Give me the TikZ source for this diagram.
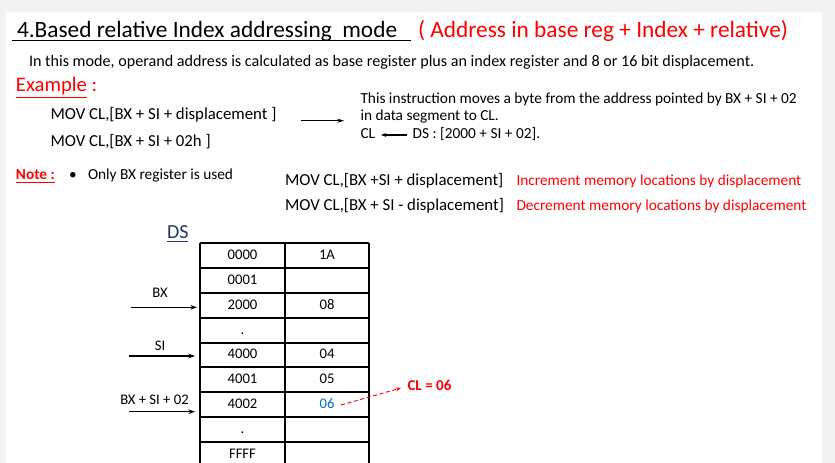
\documentclass[tikz,border=0pt]{standalone}
\usepackage{fontspec}
\setmainfont{Carlito}
\usetikzlibrary{arrows.meta}
\definecolor{pagegrey}{HTML}{F2F2F2}
\definecolor{hired}{HTML}{FF0000}
\definecolor{dsblue}{HTML}{1F3864}
\definecolor{valblue}{HTML}{0070C0}
\tikzset{
  txt/.style={anchor=base west, inner sep=0pt, outer sep=0pt},
  ctxt/.style={anchor=base, inner sep=0pt, outer sep=0pt},
  ptr/.style={-{Stealth[length=5pt,width=3.5pt]}, line width=1pt},
  body/.style={font=\fontsize{12.1}{14}\selectfont},
  code/.style={font=\fontsize{12.6}{15}\selectfont},
  small/.style={font=\fontsize{11.5}{13}\selectfont},
  tab/.style={font=\fontsize{11}{13}\selectfont}
}
\begin{document}
\begin{tikzpicture}[x=0.75pt,y=-0.75pt]
% page
\fill[pagegrey] (0,0) rectangle (835,463);
\fill[white] (6,12) rectangle (822,463);
\useasboundingbox (0,0) rectangle (835,463);

% heading
\node[txt, font=\fontsize{17.5}{20}\selectfont] (title) at (17,37.3) {4.Based relative Index addressing\ \ mode};
\draw[line width=0.8pt] (12,40.7) coordinate (ulA) -- (411,40.7) coordinate (ulB);
\node[txt, text=hired, font=\fontsize{17.5}{20}\selectfont] (sub) at (418,37.3) {( Address in base reg + Index + relative)};

\node[txt, body] (intro) at (29,66.7) {In this mode, operand address is calculated as base register plus an index register and 8 or 16 bit displacement.};

% example
\node[txt, text=hired, font=\fontsize{15.5}{18}\selectfont] (ex) at (16,91.7) {\underline{Example} :};
\node[txt, code] (m1) at (50.5,120) {MOV CL,[BX + SI + displacement ]};
\node[txt, code] (m2) at (50.5,146.7) {MOV CL,[BX + SI + 02h ]};
\coordinate (a1s) at (301,120.7);
\coordinate (a1e) at (344,120.7);
\draw[-{Stealth[length=5pt,width=3pt]}, line width=1pt] (a1s) -- (a1e);
\node[txt, small] (d1) at (360.5,103.3) {This instruction moves a byte from the address pointed by BX + SI + 02};
\node[txt, small] (d2) at (360.5,120.7) {in data segment to CL.};
\node[txt, small] (d3a) at (360.5,138.3) {CL};
\node[txt, small] (d3b) at (412.7,138.3) {DS : [2000 + SI + 02].};
\coordinate (a2s) at (407,135);
\coordinate (a2e) at (381,135);
\draw[-{Stealth[length=4pt,width=3pt]}, line width=0.9pt] (a2s) -- (a2e);

% note
\node[txt, text=hired, font=\bfseries\fontsize{11.5}{13}\selectfont] (note) at (16,180) {\underline{Note :}};
\node[txt, small] (bul) at (69,180) {•};
\node[txt, small] (only) at (88,180) {Only BX register is used};
\node[txt, code] (m3) at (285,186) {MOV CL,[BX +SI + displacement]};
\node[txt, code] (m4) at (285,210.7) {MOV CL,[BX + SI - displacement]};
\node[txt, text=hired, small] (inc) at (516.5,186) {Increment memory locations by displacement};
\node[txt, text=hired, small] (dec) at (516.5,210.7) {Decrement memory locations by displacement};

% data segment table
\node[txt, text=dsblue, font=\fontsize{15}{17}\selectfont] (ds) at (167,239) {\underline{DS}};
\foreach \y in {243.3,267.7,292.7,317.7,342.7,366.7,391.7,416.7,441.7}
  \draw[line width=1.5pt] (199.5,\y) -- (369,\y);
\foreach \x in {200,285,368.5}
  \draw[line width=1.5pt] (\x,243.3) -- (\x,470);
\begin{scope}[every node/.style={ctxt, tab}]
  \node (r1a) at (242.5,259.5) {0000};  \node (r1b) at (327,259.5) {1A};
  \node (r2a) at (242.5,284.5) {0001};
  \node (r3a) at (242.5,309.5) {2000};  \node (r3b) at (327,309.5) {08};
  \node (r4a) at (242.5,334.5) {.};
  \node (r5a) at (242.5,358.5) {4000};  \node (r5b) at (327,358.5) {04};
  \node (r6a) at (242.5,383.5) {4001};  \node (r6b) at (327,383.5) {05};
  \node (r7a) at (242.5,408.5) {4002};  \node[text=valblue] (r7b) at (327,408.5) {06};
  \node (r8a) at (242.5,433.5) {.};
  \node (r9a) at (242.5,458.5) {FFFF};
\end{scope}

% pointers into the table
\node[ctxt, tab] (bx) at (160,297.5) {BX};
\coordinate (bxs) at (131,307.3);
\coordinate (bxe) at (197,307.3);
\draw[ptr] (bxs) -- (bxe);
\node[ctxt, tab] (si) at (160,350) {SI};
\coordinate (sis) at (129,356);
\coordinate (sie) at (195,356);
\draw[ptr] (sis) -- (sie);
\node[ctxt, tab] (ea) at (154.5,404) {BX + SI + 02};
\coordinate (eas) at (129,411.7);
\coordinate (eae) at (195,411.7);
\draw[ptr] (eas) -- (eae);

% result
\node[txt, text=hired, font=\bfseries\fontsize{11.3}{13}\selectfont] (cl) at (407.5,390) {CL = 06};
\coordinate (cls) at (341,405);
\coordinate (cle) at (401,388);
\draw[hired, densely dashed, line width=0.7pt, -{Stealth[length=4pt,width=3pt]}] (cls) -- (cle);
\end{tikzpicture}
\end{document}
